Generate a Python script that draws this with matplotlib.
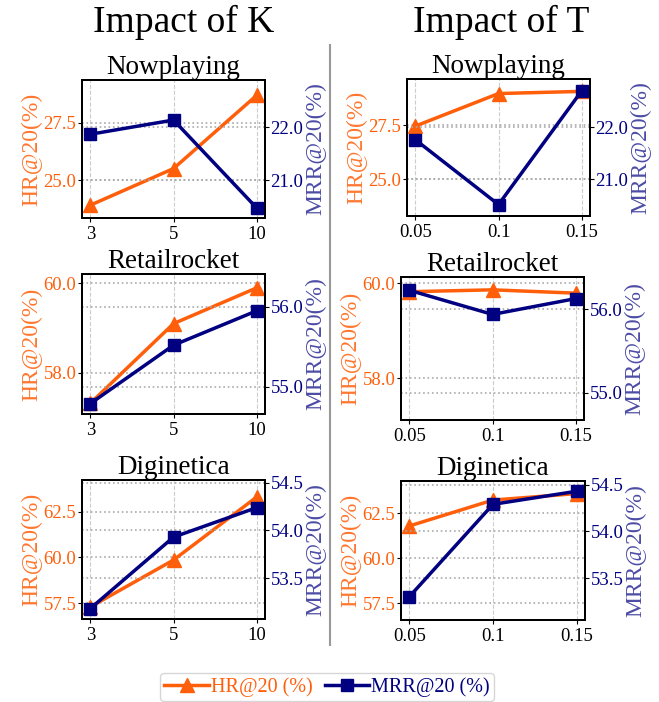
import matplotlib
matplotlib.use("Agg")
import matplotlib.pyplot as plt
from matplotlib import font_manager
from matplotlib.lines import Line2D
from matplotlib.ticker import FormatStrFormatter

names = sorted({f.name for f in font_manager.fontManager.ttflist})
serif_pref = [n for n in ['Liberation Serif', 'Times New Roman', 'Nimbus Roman', 'TeX Gyre Termes',
                          'STIXGeneral', 'DejaVu Serif'] if n in names]
plt.rcParams['font.family'] = 'serif'
plt.rcParams['font.serif'] = serif_pref + ['DejaVu Serif']
plt.rcParams['mathtext.fontset'] = 'stix'

# ---------------- data ----------------
k_labels = ['3', '5', '10']
t_labels = ['0.05', '0.1', '0.15']
datasets = ['Nowplaying', 'Retailrocket', 'Diginetica']

hr_k = {
    'Nowplaying': [23.9, 25.5, 28.7],
    'Retailrocket': [57.32, 59.1, 59.9],
    'Diginetica': [57.3, 59.86, 63.3],
}
mrr_k = {
    'Nowplaying': [21.87, 22.14, 20.47],
    'Retailrocket': [54.79, 55.52, 55.95],
    'Diginetica': [53.18, 53.93, 54.24],
}
hr_t = {
    'Nowplaying': [27.45, 28.95, 29.05],
    'Retailrocket': [59.82, 59.86, 59.79],
    'Diginetica': [61.8, 63.24, 63.6],
}
mrr_t = {
    'Nowplaying': [21.76, 20.51, 22.70],
    'Retailrocket': [56.23, 55.94, 56.13],
    'Diginetica': [53.30, 54.29, 54.43],
}

hr_ticks = {
    'Nowplaying': [25.0, 27.5],
    'Retailrocket': [58.0, 60.0],
    'Diginetica': [57.5, 60.0, 62.5],
}
mrr_ticks = {
    'Nowplaying': [21.0, 22.0],
    'Retailrocket': [55.0, 56.0],
    'Diginetica': [53.5, 54.0, 54.5],
}
hr_lim_k = {'Nowplaying': (23.34, 29.37), 'Retailrocket': (57.08, 60.21), 'Diginetica': (56.64, 64.23)}
mrr_lim_k = {'Nowplaying': (20.28, 22.90), 'Retailrocket': (54.66, 56.41), 'Diginetica': (53.07, 54.53)}
hr_lim_t = {'Nowplaying': (23.31, 29.62), 'Retailrocket': (57.12, 60.13), 'Diginetica': (56.57, 64.30)}
mrr_lim_t = {'Nowplaying': (20.29, 22.93), 'Retailrocket': (54.67, 56.39), 'Diginetica': (53.05, 54.54)}

ORANGE = '#FF5F0A'
NAVY = '#000080'

W, H = 659, 702
fig = plt.figure(figsize=(W / 100, H / 100), dpi=100)

# axes boxes in pixels: (x0, y0_top, x1, y1_bottom)
boxes_k = [(82, 80, 265, 218), (82, 274, 265, 414), (82, 480, 265, 619)]
boxes_t = [(407, 79, 590, 216), (401, 277, 584, 420), (401, 481, 585, 620)]


def px_box(b):
    x0, yt, x1, yb = b
    return [x0 / W, 1 - yb / H, (x1 - x0) / W, (yb - yt) / H]


def draw(box, name, labels, hr, mrr, hlim, mlim):
    ax = fig.add_axes(px_box(box))
    ax2 = ax.twinx()
    xs = list(range(len(labels)))
    ax.plot(xs, hr, color=ORANGE, marker='^', markersize=10, linewidth=2.5, zorder=3)
    ax2.plot(xs, mrr, color=NAVY, marker='s', markersize=9, linewidth=2.5, zorder=3)
    ax.set_xlim(-0.1, 2.1)
    ax.set_xticks(xs)
    ax.set_xticklabels(labels, fontsize=13.5)
    ax.set_ylim(*hlim)
    ax2.set_ylim(*mlim)
    ax.set_yticks(hr_ticks[name])
    ax2.set_yticks(mrr_ticks[name])
    ax.yaxis.set_major_formatter(FormatStrFormatter('%.1f'))
    ax2.yaxis.set_major_formatter(FormatStrFormatter('%.1f'))
    ax.tick_params(axis='y', labelcolor=ORANGE, labelsize=13.5, length=3, pad=1)
    ax2.tick_params(axis='y', labelcolor=NAVY, labelsize=13.5, length=3, pad=1)
    ax.tick_params(axis='x', length=3, pad=3)
    ax.grid(axis='x', linestyle='--', color='#cccccc', linewidth=0.8)
    ax.grid(axis='y', linestyle=':', color='#aaaaaa', linewidth=1.2)
    ax2.grid(axis='y', linestyle=':', color='#aaaaaa', linewidth=1.2)
    ax.set_ylabel('HR@20(%)', color=ORANGE, alpha=0.85, fontsize=17, labelpad=1)
    ax2.set_ylabel('MRR@20(%)', color=NAVY, alpha=0.7, fontsize=17, labelpad=1)
    ax.set_title(name, fontsize=19.5, pad=4)
    for a in (ax, ax2):
        for s in a.spines.values():
            s.set_linewidth(1.4)
            s.set_color('black')
    return ax


for i, name in enumerate(datasets):
    draw(boxes_k[i], name, k_labels, hr_k[name], mrr_k[name], hr_lim_k[name], mrr_lim_k[name])
    draw(boxes_t[i], name, t_labels, hr_t[name], mrr_t[name], hr_lim_t[name], mrr_lim_t[name])

fig.text(184 / W, 1 - 22 / H, 'Impact of K', ha='center', va='center', fontsize=27)
fig.text(501 / W, 1 - 22 / H, 'Impact of T', ha='center', va='center', fontsize=27)

fig.add_artist(Line2D([330 / W, 330 / W], [1 - 45 / H, 1 - 645 / H],
                      color='#999999', linewidth=1.5, transform=fig.transFigure))

handles = [
    Line2D([], [], color=ORANGE, marker='^', markersize=10, linewidth=2.5),
    Line2D([], [], color=NAVY, marker='s', markersize=9, linewidth=2.5),
]
leg = fig.legend(handles, ['HR@20 (%)', 'MRR@20 (%)'], loc='center',
                 bbox_to_anchor=(327 / W, 1 - 687 / H), ncol=2, fontsize=14.5,
                 frameon=True, handlelength=2.2, handletextpad=0.1,
                 columnspacing=0.6, borderpad=0.2, borderaxespad=0)
for t, c in zip(leg.get_texts(), [ORANGE, NAVY]):
    t.set_color(c)
leg.get_frame().set_edgecolor('#cccccc')

fig.savefig('out.png', dpi=100)
